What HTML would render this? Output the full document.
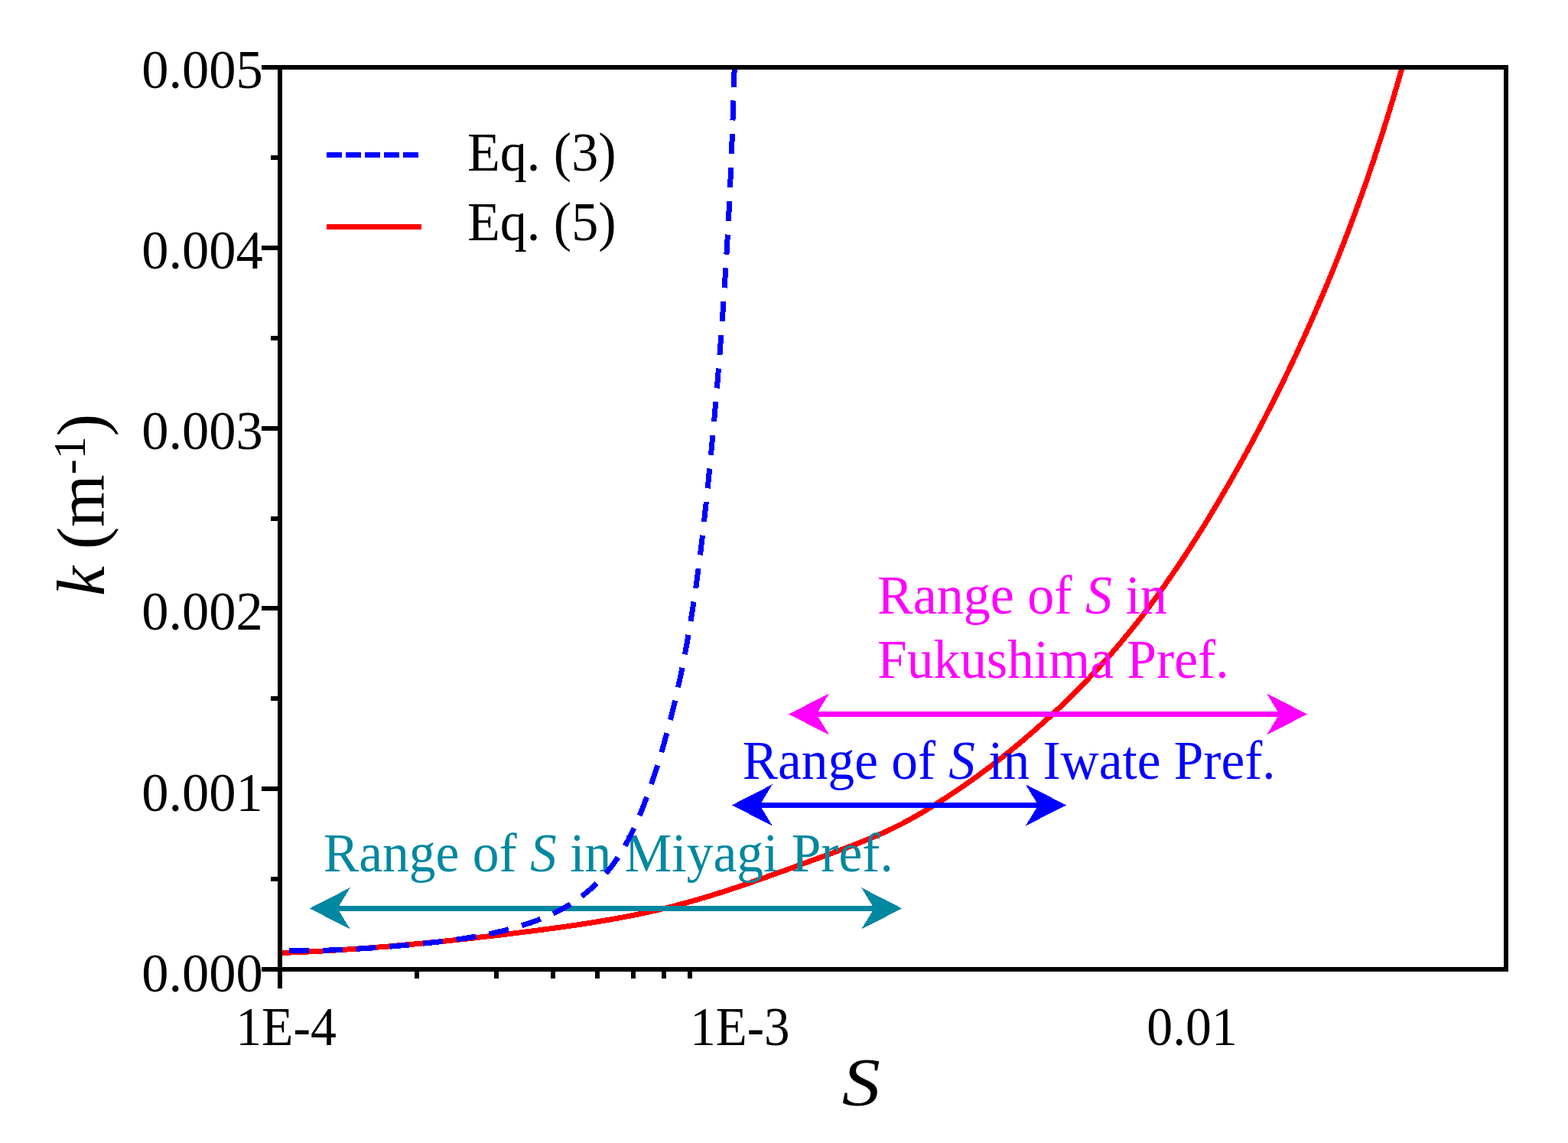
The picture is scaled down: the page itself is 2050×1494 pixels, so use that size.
<!DOCTYPE html>
<html><head><meta charset="utf-8"><title>k vs S</title>
<style>
html,body{margin:0;padding:0;background:#fff;}
svg{display:block;}
text{font-family:"Liberation Serif","Times New Roman",serif;}
</style></head><body>
<svg shape-rendering="crispEdges" width="2050" height="1494" viewBox="0 0 2050 1494">
<defs><clipPath id="pa"><rect x="366" y="88" width="1603" height="1179"/></clipPath></defs>
<rect width="2050" height="1494" fill="#fff"/>
<path clip-path="url(#pa)" d="M366.0,1245.5 369.0,1245.5 375.8,1245.2 382.7,1244.9 389.5,1244.6 396.4,1244.3 403.2,1244.0 410.1,1243.7 416.9,1243.3 423.7,1242.9 430.6,1242.5 437.4,1242.1 444.2,1241.7 451.1,1241.2 457.9,1240.8 464.7,1240.3 471.5,1239.8 478.4,1239.3 485.2,1238.8 492.0,1238.3 498.8,1237.7 505.7,1237.2 512.5,1236.6 519.3,1236.0 526.1,1235.4 532.9,1234.8 539.7,1234.2 546.6,1233.5 553.4,1232.9 560.2,1232.2 567.0,1231.6 573.8,1230.9 580.6,1230.2 587.4,1229.5 594.2,1228.8 601.0,1228.0 607.8,1227.3 614.6,1226.5 621.5,1225.8 628.3,1225.0 635.1,1224.2 641.9,1223.5 648.7,1222.7 655.5,1221.9 662.3,1221.0 669.1,1220.2 675.9,1219.4 682.7,1218.5 689.5,1217.7 696.3,1216.8 703.1,1216.0 709.9,1215.1 716.7,1214.2 723.5,1213.3 730.2,1212.4 737.0,1211.4 743.8,1210.5 750.6,1209.5 757.4,1208.5 764.1,1207.5 770.9,1206.4 777.7,1205.3 784.4,1204.2 791.2,1203.1 797.9,1201.9 804.6,1200.7 811.4,1199.5 818.1,1198.2 824.8,1196.9 831.5,1195.6 838.2,1194.2 844.9,1192.8 851.5,1191.3 858.2,1189.8 864.9,1188.3 871.5,1186.7 878.1,1185.0 884.7,1183.3 891.3,1181.6 897.9,1179.8 904.5,1177.9 911.1,1176.1 917.7,1174.1 924.2,1172.2 930.7,1170.2 937.3,1168.2 943.8,1166.1 950.3,1164.0 956.8,1161.9 963.3,1159.7 969.8,1157.5 976.3,1155.3 982.8,1153.1 989.3,1150.8 995.8,1148.6 1002.2,1146.3 1008.7,1144.0 1015.1,1141.6 1021.6,1139.3 1028.0,1137.0 1034.5,1134.6 1040.9,1132.3 1047.4,1129.9 1053.8,1127.5 1060.3,1125.2 1066.7,1122.8 1073.2,1120.5 1079.6,1118.1 1086.0,1115.8 1092.5,1113.4 1098.9,1111.0 1105.3,1108.6 1111.7,1106.2 1118.1,1103.8 1124.5,1101.3 1130.8,1098.7 1137.1,1096.1 1143.4,1093.5 1149.7,1090.8 1155.9,1088.0 1162.1,1085.1 1168.2,1082.2 1174.3,1079.1 1180.4,1076.0 1186.4,1072.8 1192.4,1069.5 1198.3,1066.2 1204.3,1062.8 1210.1,1059.3 1216.0,1055.7 1221.8,1052.2 1227.6,1048.5 1233.4,1044.8 1239.1,1041.1 1244.8,1037.4 1250.5,1033.6 1256.2,1029.7 1261.8,1025.8 1267.4,1021.9 1273.0,1017.9 1278.6,1013.9 1284.1,1009.9 1289.6,1005.8 1295.1,1001.7 1300.5,997.5 1305.9,993.3 1311.3,989.1 1316.7,984.8 1322.0,980.5 1327.3,976.1 1332.6,971.8 1337.8,967.4 1343.0,962.9 1348.2,958.4 1353.4,953.9 1358.5,949.4 1363.6,944.8 1368.7,940.2 1373.8,935.6 1378.8,930.9 1383.8,926.2 1388.8,921.5 1393.7,916.7 1398.6,911.9 1403.5,907.1 1408.3,902.3 1413.1,897.4 1417.9,892.5 1422.6,887.5 1427.3,882.6 1432.0,877.6 1436.7,872.5 1441.3,867.5 1445.8,862.4 1450.4,857.3 1454.9,852.1 1459.3,846.9 1463.8,841.7 1468.1,836.5 1472.5,831.2 1476.8,825.9 1481.1,820.6 1485.3,815.3 1489.6,809.9 1493.7,804.5 1497.9,799.0 1502.0,793.6 1506.1,788.1 1510.1,782.6 1514.2,777.1 1518.1,771.5 1522.1,766.0 1526.0,760.4 1529.9,754.7 1533.8,749.1 1537.7,743.5 1541.5,737.8 1545.3,732.1 1549.1,726.4 1552.8,720.7 1556.5,714.9 1560.2,709.1 1563.9,703.4 1567.5,697.6 1571.2,691.8 1574.8,685.9 1578.3,680.1 1581.9,674.3 1585.4,668.4 1589.0,662.5 1592.5,656.6 1595.9,650.7 1599.4,644.8 1602.8,638.9 1606.3,633.0 1609.7,627.0 1613.1,621.1 1616.4,615.1 1619.8,609.2 1623.1,603.2 1626.4,597.2 1629.7,591.2 1633.0,585.2 1636.3,579.2 1639.5,573.1 1642.7,567.1 1645.9,561.0 1649.1,555.0 1652.3,548.9 1655.4,542.8 1658.5,536.7 1661.7,530.6 1664.7,524.5 1667.8,518.4 1670.9,512.3 1673.9,506.2 1676.9,500.0 1679.9,493.9 1682.9,487.7 1685.9,481.5 1688.8,475.4 1691.7,469.2 1694.7,463.0 1697.5,456.8 1700.4,450.6 1703.3,444.3 1706.1,438.1 1708.9,431.9 1711.7,425.6 1714.5,419.4 1717.3,413.1 1720.0,406.8 1722.7,400.6 1725.4,394.3 1728.1,388.0 1730.8,381.7 1733.4,375.4 1736.1,369.0 1738.7,362.7 1741.3,356.4 1743.9,350.0 1746.4,343.7 1749.0,337.3 1751.5,331.0 1754.0,324.6 1756.5,318.2 1759.0,311.8 1761.4,305.5 1763.9,299.1 1766.3,292.7 1768.7,286.2 1771.1,279.8 1773.4,273.4 1775.8,267.0 1778.1,260.5 1780.4,254.1 1782.7,247.6 1785.0,241.2 1787.2,234.7 1789.5,228.2 1791.7,221.8 1793.9,215.3 1796.1,208.8 1798.2,202.3 1800.4,195.8 1802.5,189.3 1804.6,182.8 1806.7,176.3 1808.8,169.7 1810.9,163.2 1812.9,156.7 1814.9,150.1 1816.9,143.6 1818.9,137.0 1820.9,130.5 1822.8,123.9 1824.8,117.4 1826.7,110.8 1828.6,104.2 1830.5,97.6 1832.3,91.0 1832.6,84.0" fill="none" stroke="#f00" stroke-width="7" stroke-linejoin="round"/>
<g font-size="72">
<text transform="translate(1147.06 802.00) scale(0.9716 1.0000)" fill="#f0f">Range of <tspan font-style="italic">S</tspan> in</text>
<text transform="translate(1147.07 886.10) scale(0.9655 1.0000)" fill="#f0f">Fukushima Pref.</text>
<text transform="translate(970.87 1018.00) scale(0.9628 1.0000)" fill="#00f">Range of <tspan font-style="italic">S</tspan> in Iwate Pref.</text>
<text transform="translate(422.87 1139.00) scale(0.9652 1.0000)" fill="#0088a0">Range of <tspan font-style="italic">S</tspan> in Miyagi Pref.</text>
</g>
<line x1="1066.6" y1="933.5" x2="1673.5" y2="933.5" stroke="#f0f" stroke-width="7"/>
<polygon points="1031.1,933.5 1084.1,906.3 1067.6,933.5 1084.1,960.7" fill="#f0f"/>
<polygon points="1709.0,933.5 1656.0,906.3 1672.5,933.5 1656.0,960.7" fill="#f0f"/>
<line x1="992.4" y1="1052.4" x2="1358.3" y2="1052.4" stroke="#00f" stroke-width="7"/>
<polygon points="956.9,1052.4 1009.9,1025.2 993.4,1052.4 1009.9,1079.6" fill="#00f"/>
<polygon points="1393.8,1052.4 1340.8,1025.2 1357.3,1052.4 1340.8,1079.6" fill="#00f"/>
<line x1="440.3" y1="1187.4" x2="1143.7" y2="1187.4" stroke="#0088a0" stroke-width="7"/>
<polygon points="404.8,1187.4 457.8,1160.2 441.3,1187.4 457.8,1214.6" fill="#0088a0"/>
<polygon points="1179.2,1187.4 1126.2,1160.2 1142.7,1187.4 1126.2,1214.6" fill="#0088a0"/>
<path clip-path="url(#pa)" d="M378.0,1242.4 383.8,1242.5 389.7,1242.5 395.5,1242.5 401.4,1242.5 407.2,1242.5 413.0,1242.4 418.8,1242.3 424.6,1242.1 430.4,1242.0 436.2,1241.8 442.0,1241.5 447.7,1241.3 453.5,1241.0 459.3,1240.7 465.0,1240.4 470.8,1240.0 476.5,1239.7 482.3,1239.3 488.1,1238.9 493.8,1238.5 499.6,1238.0 505.3,1237.6 511.1,1237.1 516.8,1236.6 522.6,1236.1 528.4,1235.6 534.1,1235.1 539.9,1234.5 545.7,1234.0 551.5,1233.4 557.3,1232.8 563.1,1232.2 568.9,1231.6 574.7,1230.9 580.5,1230.2 586.2,1229.5 592.0,1228.7 597.8,1227.9 603.6,1227.1 609.4,1226.2 615.1,1225.2 620.9,1224.3 626.7,1223.2 632.4,1222.1 638.1,1221.0 643.9,1219.8 649.6,1218.5 655.3,1217.2 661.0,1215.8 666.6,1214.3 672.3,1212.8 677.9,1211.1 683.5,1209.4 689.1,1207.6 694.6,1205.8 700.1,1203.8 705.6,1201.7 711.0,1199.5 716.3,1197.3 721.6,1194.9 726.8,1192.4 731.9,1189.7 737.0,1187.0 741.9,1184.1 746.8,1181.1 751.6,1178.0 756.3,1174.7 760.9,1171.3 765.3,1167.8 769.7,1164.2 774.0,1160.4 778.1,1156.5 782.2,1152.5 786.1,1148.4 789.9,1144.2 793.6,1139.9 797.2,1135.5 800.6,1131.0 803.9,1126.4 807.2,1121.7 810.3,1116.9 813.3,1112.0 816.2,1107.1 819.0,1102.1 821.8,1097.0 824.4,1091.9 827.0,1086.6 829.5,1081.4 831.9,1076.1 834.2,1070.7 836.5,1065.3 838.7,1059.9 840.9,1054.4 843.0,1048.9 845.0,1043.4 847.0,1037.9 849.0,1032.3 850.9,1026.8 852.8,1021.2 854.7,1015.6 856.5,1010.0 858.3,1004.5 860.0,998.9 861.8,993.3 863.5,987.7 865.1,982.1 866.8,976.5 868.4,970.8 869.9,965.2 871.5,959.6 873.0,954.0 874.5,948.4 876.0,942.7 877.4,937.1 878.8,931.4 880.2,925.8 881.6,920.1 882.9,914.5 884.2,908.8 885.5,903.2 886.7,897.5 888.0,891.8 889.2,886.2 890.4,880.5 891.5,874.8 892.7,869.1 893.8,863.5 894.9,857.8 896.0,852.1 897.0,846.4 898.1,840.7 899.1,835.0 900.1,829.3 901.1,823.6 902.1,817.9 903.0,812.2 903.9,806.4 904.8,800.7 905.7,795.0 906.6,789.3 907.5,783.6 908.3,777.8 909.1,772.1 910.0,766.4 910.8,760.6 911.5,754.9 912.3,749.2 913.1,743.4 913.8,737.7 914.6,731.9 915.3,726.2 916.0,720.4 916.7,714.7 917.4,708.9 918.1,703.2 918.7,697.4 919.4,691.7 920.0,685.9 920.7,680.1 921.3,674.4 921.9,668.6 922.6,662.9 923.2,657.1 923.8,651.3 924.4,645.5 925.0,639.8 925.6,634.0 926.2,628.2 926.7,622.5 927.3,616.7 927.9,610.9 928.4,605.1 929.0,599.4 929.6,593.6 930.1,587.8 930.7,582.0 931.2,576.2 931.8,570.5 932.3,564.7 932.8,558.9 933.3,553.1 933.9,547.3 934.4,541.5 934.9,535.8 935.4,530.0 935.9,524.2 936.4,518.4 936.9,512.6 937.4,506.8 937.9,501.0 938.4,495.2 938.8,489.5 939.3,483.7 939.8,477.9 940.2,472.1 940.7,466.3 941.2,460.5 941.6,454.7 942.0,448.9 942.5,443.1 942.9,437.3 943.3,431.5 943.8,425.7 944.2,419.9 944.6,414.1 945.0,408.3 945.4,402.5 945.8,396.7 946.2,390.9 946.6,385.1 947.0,379.3 947.4,373.5 947.7,367.7 948.1,361.9 948.5,356.1 948.8,350.3 949.2,344.5 949.6,338.7 949.9,332.9 950.2,327.1 950.6,321.3 950.9,315.5 951.2,309.7 951.6,303.9 951.9,298.1 952.2,292.3 952.5,286.5 952.8,280.7 953.1,274.9 953.4,269.1 953.7,263.3 953.9,257.5 954.2,251.7 954.5,245.9 954.7,240.1 955.0,234.3 955.2,228.6 955.5,222.8 955.7,217.0 956.0,211.2 956.2,205.4 956.4,199.6 956.7,193.8 956.9,188.0 957.1,182.2 957.3,176.4 957.5,170.6 957.7,164.8 957.9,159.0 958.1,153.2 958.2,147.4 958.4,141.6 958.6,135.8 958.7,130.0 958.9,124.2 959.0,118.4 959.2,112.6 959.3,106.9 959.4,101.1 961.0,84.0" fill="none" stroke="#00f" stroke-width="7" stroke-dasharray="26 17.83" stroke-linejoin="round"/>
<g stroke="#000" stroke-width="6" fill="none">
<path d="M342,88H1972M342,1267H1972M366,85V1292M1969,85V1270"/>
<path d="M342,88.0H366M353.5,205.9H366M342,323.8H366M353.5,441.7H366M342,559.6H366M353.5,677.5H366M342,795.4H366M353.5,913.3H366M342,1031.2H366M353.5,1149.1H366M342,1267.0H366M544.7,1267V1279M649.2,1267V1279M723.3,1267V1279M780.8,1267V1279M827.8,1267V1279M867.6,1267V1279M902.0,1267V1279"/>
</g>
<g font-size="72">
<text transform="translate(185.19 114.70) scale(0.9783 1.0000)" fill="#000">0.005</text>
<text transform="translate(185.19 350.90) scale(0.9783 1.0000)" fill="#000">0.004</text>
<text transform="translate(185.19 587.10) scale(0.9783 1.0000)" fill="#000">0.003</text>
<text transform="translate(185.19 823.30) scale(0.9783 1.0000)" fill="#000">0.002</text>
<text transform="translate(185.19 1059.50) scale(0.9783 1.0000)" fill="#000">0.001</text>
<text transform="translate(185.19 1295.70) scale(0.9783 1.0000)" fill="#000">0.000</text>
<text transform="translate(308.15 1365.50) scale(0.9421 1.0000)" fill="#000">1E-4</text>
<text transform="translate(902.31 1365.50) scale(0.9310 1.0000)" fill="#000">1E-3</text>
<text transform="translate(1499.29 1365.50) scale(0.9410 1.0000)" fill="#000">0.01</text>
</g>
<g font-size="88"><text transform="translate(1100.66 1443.50) scale(1.1401 1.0000)" fill="#000"><tspan font-style="italic">S</tspan></text></g>
<text transform="translate(136 660) rotate(-90)" font-size="88" text-anchor="middle"><tspan font-style="italic">k</tspan> (m<tspan font-size="60" dy="-25">-1</tspan><tspan dy="25">)</tspan></text>
<path d="M427,202.5H547" stroke="#00f" stroke-width="7" stroke-dasharray="19.5 5.5"/>
<path d="M427,296.5H551" stroke="#f00" stroke-width="7"/>
<g font-size="72">
<text transform="translate(610.95 223.00) scale(0.9738 1.0000)" fill="#000">Eq. (3)</text>
<text transform="translate(610.95 314.00) scale(0.9738 1.0000)" fill="#000">Eq. (5)</text>
</g>
</svg>
</body></html>
